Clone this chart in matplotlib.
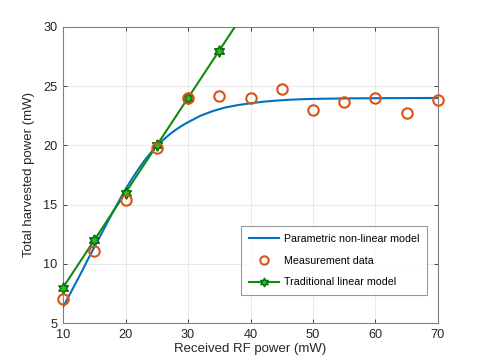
import matplotlib
matplotlib.use("Agg")
import matplotlib.pyplot as plt

plt.rcParams['font.family'] = ['Liberation Sans', 'DejaVu Sans']

# Parametric non-linear model
model_x = [10, 11, 12, 13, 14, 15, 16, 17, 18, 19, 20, 21, 22, 23, 24, 25, 26, 27, 28, 29,
           30, 32, 34, 36, 38, 40, 42, 44, 46, 48, 50, 55, 60, 65, 70]
model_y = [6.35, 7.35, 8.35, 9.35, 10.4, 11.4, 12.4, 13.4, 14.4, 15.35, 16.3, 17.15, 17.95,
           18.7, 19.35, 19.95, 20.45, 20.9, 21.3, 21.65, 21.95, 22.5, 22.9, 23.2, 23.4, 23.55,
           23.68, 23.77, 23.84, 23.89, 23.92, 23.96, 23.98, 23.99, 24.0]

# Measurement data
meas_x = [10, 15, 20, 25, 30, 35, 40, 45, 50, 55, 60, 65, 70]
meas_y = [7.0, 11.1, 15.4, 19.75, 24.0, 24.2, 24.0, 24.75, 23.0, 23.7, 24.0, 22.75, 23.8]

# Traditional linear model
lin_x = [10, 15, 20, 25, 30, 35, 40, 45, 50, 55, 60, 65, 70]
lin_y = [8, 12, 16, 20, 24, 28, 32, 36, 40, 44, 48, 52, 56]

xticks = [10, 20, 30, 40, 50, 60, 70]
yticks = [5, 10, 15, 20, 25, 30]
ylim = (5, 30)

fig = plt.figure(figsize=(4.85, 3.63), dpi=100)
ax = fig.add_axes([0.130, 0.110, 0.773, 0.816])

ax.plot(model_x, model_y, color='#0072BD', lw=1.5, label='Parametric non-linear model', zorder=3)
ax.plot(meas_x, meas_y, ls='none', marker='o', markersize=7.5, markerfacecolor='none',
        markeredgecolor='#D95319', markeredgewidth=1.5, label='Measurement data', zorder=4,
        clip_on=False)
hex_style = dict(marker=(6, 1, 0), markersize=8, markerfacecolor='#2eb82e',
                 markeredgecolor='#0a700a', markeredgewidth=1.0)
ax.plot(lin_x, lin_y, color='#118a11', lw=1.5, label='Traditional linear model', zorder=3,
        **hex_style)
vis = [(x, y) for x, y in zip(lin_x, lin_y) if ylim[0] <= y <= ylim[1]]
ax.plot([v[0] for v in vis], [v[1] for v in vis], ls='none', zorder=3, clip_on=False,
        **hex_style)

ax.set_xlim(10, 70)
ax.set_ylim(*ylim)
ax.set_xticks(xticks)
ax.set_yticks(yticks)
ax.tick_params(direction='in', length=3, width=0.6, colors='#262626', labelsize=9.2,
               top=True, right=True, pad=4)
ax.grid(True, color='#e6e6e6', lw=0.6)
ax.set_axisbelow(True)
for s in ax.spines.values():
    s.set_color('#808080')
    s.set_linewidth(0.8)

ax.set_xlabel('Received RF power (mW)', fontsize=9.5, color='#262626', labelpad=2)
ax.set_ylabel('Total harvested power (mW)', fontsize=9.5, color='#262626', labelpad=6)

leg = ax.legend(loc='lower right', bbox_to_anchor=(0.971, 0.095), borderaxespad=0,
                fontsize=7.7, frameon=True, fancybox=False, edgecolor='#808080',
                borderpad=0.7, handlelength=2.8, labelspacing=1.1, handletextpad=0.5,
                markerscale=0.8)
leg.get_frame().set_linewidth(0.8)

fig.savefig('out.png', dpi=100)
